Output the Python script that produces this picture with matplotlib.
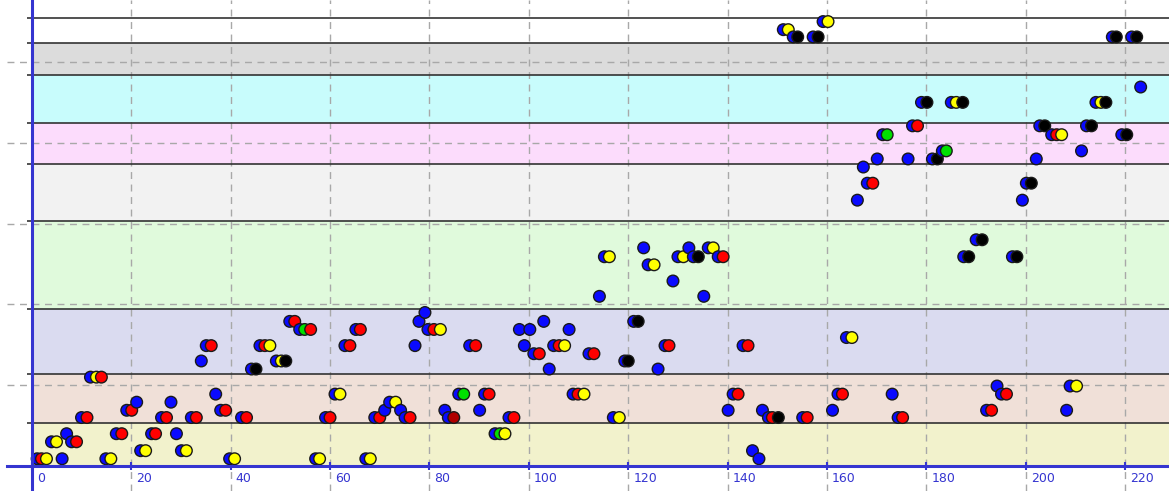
import matplotlib
matplotlib.use("Agg")
import matplotlib.pyplot as plt
import matplotlib.transforms as mtransforms
import numpy as np

# band limits (bottom -> top) and fill colours
band_edges = [0.0, 0.536, 1.142, 1.945, 3.036, 3.741, 4.249, 4.835, 5.24, 5.54]
band_colors = ["#f2f2cc", "#f0e0d8", "#dadbf0", "#e0fadc", "#f2f2f2",
               "#fcdcfc", "#c8fcfc", "#dcdcdc", "#ffffff"]

x_ticks = [0, 20, 40, 60, 80, 100, 120, 140, 160, 180, 200, 220]
y_grid = [1, 2, 3, 4, 5]

blue_x = [1.07, 6.1, 14.9, 39.8, 21.9, 30.1, 3.96, 8.0, 7.0, 17.0, 24.1, 29.1,
          10.0, 26.1, 32.1, 42.2, 19.1, 38.0, 21.1, 28.0, 37.0, 11.8, 34.1, 49.2,
          44.2, 35.1, 45.9, 51.9, 79.1, 77.9, 103.0, 53.9, 65.2, 79.7, 98.1, 100.2,
          108.1, 63.0, 77.1, 88.1, 99.1, 105.0, 101.0, 104.1, 61.0, 85.9, 91.1,
          108.9, 72.0, 71.0, 74.2, 83.1, 90.1, 59.1, 69.0, 75.1, 83.8, 96.0, 93.2,
          57.1, 67.2, 121.1, 127.4, 143.1, 112.1, 119.3, 126.0, 163.9, 141.1, 162.2,
          140.1, 147.0, 161.1, 117.0, 148.2, 155.1, 145.0, 146.3, 194.2, 208.9,
          173.1, 195.1, 192.1, 208.2, 174.3,
          123.1, 132.2, 136.1, 115.2, 130.0, 133.1, 138.1, 124.0, 129.0, 114.2, 135.2,
          190.0, 187.5, 197.3,
          159.2, 151.2, 153.2, 157.2, 217.4, 221.3,
          223.1, 179.0, 185.0, 214.1,
          177.2, 202.8, 212.2, 171.2, 205.2, 219.3, 183.2, 211.2, 170.1, 176.3, 181.2, 202.1,
          167.3, 168.1, 200.1, 166.1, 199.3]
blue_y = [0.09, 0.09, 0.09, 0.09, 0.19, 0.19, 0.30, 0.30, 0.40, 0.40, 0.40, 0.40,
          0.60, 0.60, 0.60, 0.60, 0.69, 0.69, 0.79, 0.79, 0.89, 1.10, 1.30, 1.30,
          1.20, 1.49, 1.49, 1.79, 1.90, 1.79, 1.79, 1.69, 1.69, 1.69, 1.69, 1.69,
          1.69, 1.49, 1.49, 1.49, 1.49, 1.49, 1.39, 1.20, 0.89, 0.89, 0.89,
          0.89, 0.79, 0.69, 0.69, 0.69, 0.69, 0.60, 0.60, 0.60, 0.60, 0.60, 0.40,
          0.09, 0.09, 1.79, 1.49, 1.49, 1.39, 1.30, 1.20, 1.59, 0.89, 0.89,
          0.69, 0.69, 0.69, 0.60, 0.60, 0.60, 0.19, 0.09, 0.99, 0.99,
          0.89, 0.89, 0.69, 0.69, 0.60,
          2.70, 2.70, 2.70, 2.59, 2.59, 2.59, 2.59, 2.49, 2.29, 2.10, 2.10,
          2.80, 2.59, 2.59,
          5.50, 5.40, 5.31, 5.31, 5.31, 5.31,
          4.69, 4.50, 4.50, 4.50,
          4.21, 4.21, 4.21, 4.10, 4.10, 4.10, 3.90, 3.90, 3.80, 3.80, 3.80, 3.80,
          3.70, 3.50, 3.50, 3.29, 3.29]

red_x = [1.95, 9.0, 18.1, 24.9, 11.1, 27.1, 33.1, 43.2, 20.1, 39.0, 14.0, 36.1,
         46.9, 52.9, 56.1, 66.1, 80.9, 64.0, 89.3, 106.1, 102.1, 92.0, 109.9, 60.0,
         70.0, 76.1, 97.0, 128.2, 144.1, 113.1, 142.1, 163.1, 149.0, 156.0, 196.1,
         193.1, 175.2, 139.1, 178.2, 206.2, 169.2]
red_y = [0.09, 0.30, 0.40, 0.40, 0.60, 0.60, 0.60, 0.60, 0.69, 0.69, 1.10, 1.49,
         1.49, 1.79, 1.69, 1.69, 1.69, 1.49, 1.49, 1.49, 1.39, 0.89, 0.89, 0.60,
         0.60, 0.60, 0.60, 1.49, 1.49, 1.39, 0.89, 0.89, 0.60, 0.60, 0.89,
         0.69, 0.60, 2.59, 4.21, 4.10, 3.50]

darkred_x = [84.9]
darkred_y = [0.60]

yellow_x = [2.95, 15.9, 40.8, 22.9, 31.1, 4.97, 13.0, 50.2, 47.9, 82.2, 107.2, 62.0,
            111.1, 73.2, 95.2, 57.9, 68.1, 165.0, 118.2, 210.2, 137.1, 116.2, 131.1,
            125.2, 160.2, 152.2, 186.0, 215.1, 207.2]
yellow_y = [0.09, 0.09, 0.09, 0.19, 0.19, 0.30, 1.10, 1.30, 1.49, 1.69, 1.49, 0.89,
            0.89, 0.79, 0.40, 0.09, 0.09, 1.59, 0.60, 0.99, 2.70, 2.59, 2.59,
            2.49, 5.50, 5.40, 4.50, 4.50, 4.10]

black_x = [51.1, 45.1, 122.0, 120.0, 150.2, 134.1, 191.2, 188.5, 198.2, 154.1, 158.2,
           218.2, 222.3, 180.1, 187.3, 216.1, 203.8, 213.2, 220.3, 182.2, 201.1]
black_y = [1.30, 1.20, 1.79, 1.30, 0.60, 2.59, 2.80, 2.59, 2.59, 5.31, 5.31,
           5.31, 5.31, 4.50, 4.50, 4.50, 4.21, 4.21, 4.10, 3.80, 3.50]

green_x = [54.9, 86.9, 94.2, 172.1, 184.0]
green_y = [1.69, 0.89, 0.40, 4.10, 3.90]

axis_blue = "#3535d0"

fig = plt.figure(figsize=(11.69, 4.91), dpi=100)
ax = fig.add_axes([0, 0, 1, 1])
ax.set_xlim(-6.4, 228.8)
ax.set_ylim(-0.309, 5.767)

# coloured bands
for lo, hi, c in zip(band_edges[:-1], band_edges[1:], band_colors):
    ax.fill_between([0, 230], lo, hi, color=c, lw=0, zorder=0)

# dashed grid
dash = (0, (5, 4))
for gx in x_ticks[1:]:
    ax.axvline(gx, color="#a8a8a8", ls=dash, lw=1, zorder=1)
ax.hlines(y_grid, -5, 230, color="#a8a8a8", ls=dash, lw=1, zorder=1)

# band boundary lines
ax.hlines(band_edges[1:], -1, 230, color="#333333", lw=1.2, zorder=2)

# points, drawn left to right so the later ones sit on top
px, py, pc = [], [], []
for xs, ys, col in [(blue_x, blue_y, "#0a0aff"), (red_x, red_y, "#ff0000"),
                    (darkred_x, darkred_y, "#b00000"), (yellow_x, yellow_y, "#ffff00"),
                    (black_x, black_y, "#000000"), (green_x, green_y, "#00e000")]:
    px += xs
    py += ys
    pc += [col] * len(xs)
order = np.argsort(px, kind="stable")
ax.scatter(np.array(px)[order], np.array(py)[order], c=np.array(pc)[order],
           s=70, edgecolors="#1a1a1a", linewidths=1, zorder=3)

# axes through the origin
for side in ["top", "right"]:
    ax.spines[side].set_visible(False)
ax.spines["left"].set_position(("data", 0))
ax.spines["bottom"].set_position(("data", 0))
ax.spines["bottom"].set_bounds(-5, 230)
for side in ["left", "bottom"]:
    ax.spines[side].set_color(axis_blue)
    ax.spines[side].set_linewidth(2.2)
    ax.spines[side].set_zorder(4)

ax.set_yticks([])
ax.set_xticks(x_ticks)
ax.set_xticklabels([str(t) for t in x_ticks])
ax.tick_params(axis="x", direction="inout", length=6, width=1.5, color=axis_blue,
               labelcolor=axis_blue, labelsize=9, pad=1)
shift = mtransforms.ScaledTranslation(5 / 100, 0, fig.dpi_scale_trans)
for lbl in ax.get_xticklabels():
    lbl.set_horizontalalignment("left")
    lbl.set_transform(lbl.get_transform() + shift)

fig.savefig("out.png", dpi=100)
